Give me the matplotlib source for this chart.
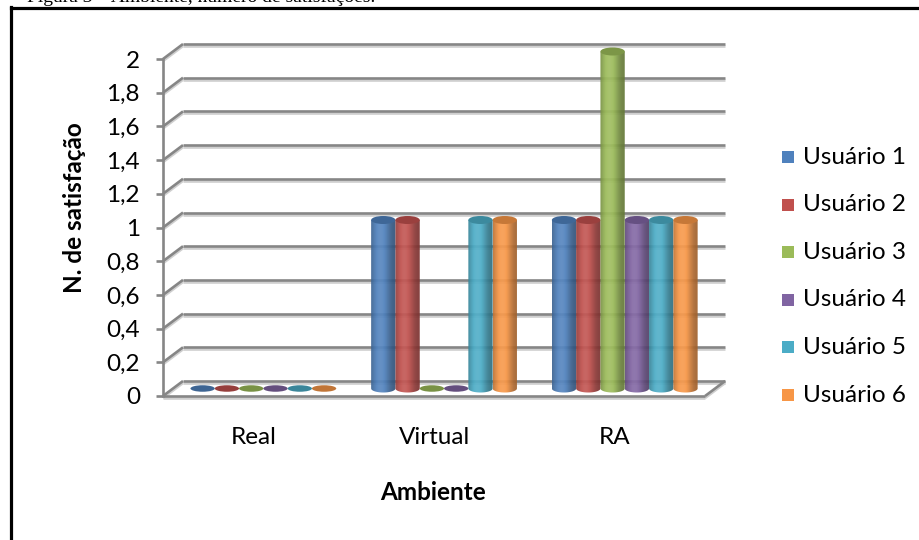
import numpy as np
import matplotlib
matplotlib.use("Agg")
import matplotlib.pyplot as plt
from matplotlib.patches import Ellipse, PathPatch, Rectangle
from matplotlib.path import Path
from matplotlib.lines import Line2D
from matplotlib.colors import to_rgb

# ---- data -------------------------------------------------------------
categories = ["Real", "Virtual", "RA"]
series_names = ["Usuário 1", "Usuário 2", "Usuário 3",
                "Usuário 4", "Usuário 5", "Usuário 6"]
usuario_1 = [0, 1, 1]
usuario_2 = [0, 1, 1]
usuario_3 = [0, 0, 2]
usuario_4 = [0, 0, 1]
usuario_5 = [0, 1, 1]
usuario_6 = [0, 1, 1]
series_values = [usuario_1, usuario_2, usuario_3, usuario_4, usuario_5, usuario_6]
yticks = [0, 0.2, 0.4, 0.6, 0.8, 1.0, 1.2, 1.4, 1.6, 1.8, 2.0]
ytick_labels = ["0", "0,2", "0,4", "0,6", "0,8", "1", "1,2", "1,4", "1,6", "1,8", "2"]
colors = ["#4F81BD", "#C0504D", "#9BBB59", "#8064A2", "#4BACC6", "#F79646"]

# ---- layout -----------------------------------------------------------
W, H = 920, 540
FONT = "Lato"
FS = 17.5
plt.rcParams["font.family"] = [FONT, "DejaVu Sans"]

fig = plt.figure(figsize=(W / 100, H / 100), dpi=100)

# plotting area in pixels (front plane)
ax_left, ax_right = 163, 725
ax_bottom, ax_top = 396, 40
px_per_cat = 180.7
px_per_val = 168.5
ax = fig.add_axes([ax_left / W, (H - ax_bottom) / H,
                   (ax_right - ax_left) / W, (ax_bottom - ax_top) / H])
xlim = (-0.5, -0.5 + (ax_right - ax_left) / px_per_cat)
ylim = (0, (ax_bottom - ax_top) / px_per_val)

ux = 1 / px_per_cat
uy = 1 / px_per_val
DX, DY = 20 * ux, 15 * uy           # depth offset of the back wall

GRID = "#868686"
GRID_LIGHT = "#cfcfcf"
LW = 1.9

def grid_line(xs, ys, z=1):
    ax.plot(xs, [y - 2 * uy for y in ys], color=GRID_LIGHT, lw=LW,
            solid_capstyle="butt", zorder=z, clip_on=False)
    ax.plot(xs, ys, color=GRID, lw=LW, solid_capstyle="butt",
            zorder=z + 0.1, clip_on=False)

x_front_right = len(categories) - 0.5
for v in yticks:
    # back wall line
    grid_line([-0.5 + DX, x_front_right + DX], [v + DY, v + DY])
    # side wall diagonal
    grid_line([-0.5, -0.5 + DX], [v, v + DY])

# floor edges
grid_line([-0.5, x_front_right], [0, 0], z=6)
grid_line([x_front_right, x_front_right + DX], [0, DY], z=6)
ax.plot([-0.5, -0.5], [0, 2], color=GRID, lw=LW, zorder=6, clip_on=False)

# ---- cylinders --------------------------------------------------------
bar_w = 24.3 * ux
eh = 8 * uy
base = DY / 2
t = np.linspace(0, 1, 64)
shade = 0.66 + 0.40 * np.cos((t - 0.38) * np.pi * 0.85) ** 2

def shaded(c, f):
    r = np.array(to_rgb(c))
    if f >= 1:
        return np.clip(r + (1 - r) * (f - 1), 0, 1)
    return r * f

n = len(series_names)
for gi in range(len(categories)):
    for si in range(n):
        v = series_values[si][gi]
        c = colors[si]
        x0 = gi + DX / 2 - n * bar_w / 2 + si * bar_w
        xc = x0 + bar_w / 2
        z = 10 + si
        if v <= 0:
            ax.add_patch(Ellipse((xc, base), bar_w, 6.5 * uy,
                                 facecolor=shaded(c, 0.78), edgecolor="none",
                                 zorder=z, clip_on=False))
            continue
        top = base + v
        # outline: left side, lower half ellipse, right side
        ang = np.linspace(np.pi, 2 * np.pi, 40)
        bx = xc + bar_w / 2 * np.cos(ang)
        by = base + eh / 2 * np.sin(ang)
        verts = [(x0, top)] + list(zip(bx, by)) + [(x0 + bar_w, top), (x0, top)]
        path = Path(verts)
        clip = PathPatch(path, facecolor="none", edgecolor="none",
                         transform=ax.transData)
        ax.add_patch(clip)
        img = np.array([[shaded(c, f) for f in shade]])
        im = ax.imshow(img, extent=(x0, x0 + bar_w, base - eh, top),
                       aspect="auto", interpolation="bilinear",
                       zorder=z, alpha=0.93)
        im.set_clip_path(clip)
        # top cap
        ax.add_patch(Ellipse((xc, top), bar_w, eh,
                             facecolor=shaded(c, 0.8), edgecolor="none",
                             zorder=z + 0.5, clip_on=False))

ax.set_xlim(*xlim)
ax.set_ylim(*ylim)

# ---- axes decorations --------------------------------------------------
for s in ax.spines.values():
    s.set_visible(False)
ax.set_yticks(yticks, labels=ytick_labels)
ax.tick_params(axis="y", length=7 * 0.72, width=LW, color=GRID,
               pad=16 * 0.72, labelsize=FS)
ax.set_xticks([])
ax.patch.set_visible(False)

for gi, cat in enumerate(categories):
    ax.text(gi, -42 * uy, cat, ha="center", va="center", fontsize=FS,
            clip_on=False)

fig.text(433 / W, 1 - 492 / H, "Ambiente", ha="center", va="center",
         fontsize=FS, fontweight="bold")
fig.text(75 / W, 1 - 208 / H, "N. de satisfação", ha="center", va="center",
         rotation=90, fontsize=FS, fontweight="bold")

# legend
for i, name in enumerate(series_names):
    yc = 157 + i * 47.6
    fig.add_artist(Rectangle((782 / W, 1 - (yc + 6) / H), 12 / W, 12 / H,
                             transform=fig.transFigure,
                             facecolor=colors[i], edgecolor="none"))
    fig.text(803 / W, 1 - yc / H, name, ha="left", va="center", fontsize=FS)

# frame and caption above it
fig.add_artist(Line2D([11 / W, 11 / W], [1 - 7 / H, -0.05],
                      transform=fig.transFigure, color="black", lw=2.3))
fig.add_artist(Line2D([11 / W, 1.05], [1 - 7.5 / H, 1 - 7.5 / H],
                      transform=fig.transFigure, color="black", lw=2.3))
fig.text(27 / W, 1 - 1.5 / H, "Figura 3 – Ambiente, número de satisfações.",
         ha="left", va="baseline", fontsize=14,
         family=["Liberation Serif", "DejaVu Serif"])

fig.savefig("out.png", dpi=100)
